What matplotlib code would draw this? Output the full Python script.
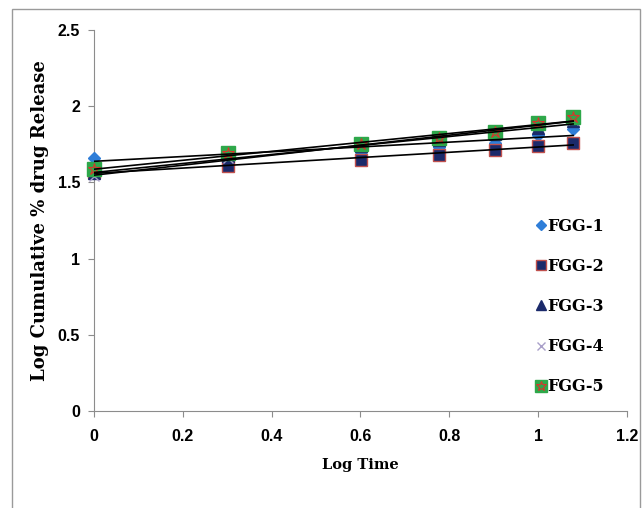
import numpy as np
import matplotlib
matplotlib.use("Agg")
import matplotlib.pyplot as plt
from matplotlib.patches import Rectangle
from matplotlib.legend_handler import HandlerTuple

# log time (h = 1, 2, 4, 6, 8, 10, 12)
log_time = [0, 0.301, 0.602, 0.778, 0.903, 1.0, 1.079]

fgg1 = [1.66, 1.69, 1.70, 1.73, 1.76, 1.81, 1.85]
fgg2 = [1.57, 1.61, 1.65, 1.68, 1.71, 1.74, 1.76]
fgg3 = [1.56, 1.67, 1.74, 1.78, 1.82, 1.86, 1.90]
fgg4 = [1.54, 1.66, 1.75, 1.79, 1.83, 1.88, 1.91]
fgg5 = [1.59, 1.69, 1.75, 1.79, 1.83, 1.89, 1.93]

labels = ["FGG-1", "FGG-2", "FGG-3", "FGG-4", "FGG-5"]
xticks = [0, 0.2, 0.4, 0.6, 0.8, 1, 1.2]
yticks = [0, 0.5, 1, 1.5, 2, 2.5]

fig = plt.figure(figsize=(6.42, 5.08), dpi=100)
ax = fig.add_axes([0.1464, 0.191, 0.83, 0.75])

# outer frame around the whole chart
fig.patches.append(Rectangle((12 / 642, -0.02), 628 / 642, 1 - 9 / 508 + 0.02,
                             transform=fig.transFigure, fill=False,
                             edgecolor="#9a9a9a", linewidth=1.0))

x = np.array(log_time)
h1, = ax.plot(x, fgg1, linestyle="none", marker="D", ms=6.5,
              color="#2f7ed8", mec="#2f7ed8", zorder=3, clip_on=False)
h2, = ax.plot(x, fgg2, linestyle="none", marker="s", ms=8,
              color="#1b2a6b", mec="#c0504d", mew=1.0, zorder=3, clip_on=False)
h3, = ax.plot(x, fgg3, linestyle="none", marker="^", ms=8,
              color="#1b2a6b", mec="#1b2a6b", zorder=3, clip_on=False)
h4, = ax.plot(x, fgg4, linestyle="none", marker="x", ms=7,
              color="#a99fc9", mew=1.0, zorder=3, clip_on=False)
h5a, = ax.plot(x, fgg5, linestyle="none", marker="s", ms=9.5,
               color="#2ea84a", mec="#2ea84a", zorder=4, clip_on=False)
h5b, = ax.plot(x, fgg5, linestyle="none", marker="*", ms=9,
               color="none", mec="#d9342b", mew=0.8, zorder=5, clip_on=False)

# linear trendlines
for ys in [fgg1, fgg2, fgg3, fgg4, fgg5]:
    m, c = np.polyfit(x, ys, 1)
    xs = np.array([x[0], x[-1]])
    ax.plot(xs, m * xs + c, color="black", linewidth=1.2, zorder=6)

ax.set_xlim(0, 1.2)
ax.set_ylim(0, 2.5)
ax.set_xticks(xticks)
ax.set_yticks(yticks)
ax.set_xticklabels(["0", "0.2", "0.4", "0.6", "0.8", "1", "1.2"])
ax.set_yticklabels(["0", "0.5", "1", "1.5", "2", "2.5"])

for side in ["top", "right"]:
    ax.spines[side].set_visible(False)
for side in ["left", "bottom"]:
    ax.spines[side].set_color("#8c8c8c")
ax.tick_params(direction="out", length=4, color="#8c8c8c")
ax.tick_params(axis="x", pad=9)
ax.tick_params(axis="y", pad=6)
for lab in ax.get_xticklabels() + ax.get_yticklabels():
    lab.set_fontfamily("Liberation Sans")
    lab.set_fontweight("bold")
    lab.set_fontsize(11.5)

ax.set_xlabel("Log Time", fontfamily="DejaVu Serif", fontweight="bold",
              fontsize=10.5, labelpad=10)
ax.set_ylabel("Log Cumulative % drug Release", fontfamily="DejaVu Serif",
              fontweight="bold", fontsize=13, labelpad=6)

ax.legend([h1, h2, h3, h4, (h5a, h5b)], labels,
          handler_map={tuple: HandlerTuple(ndivide=1)},
          loc="upper left", bbox_to_anchor=(0.805, 0.545), frameon=False,
          handlelength=0.5, handletextpad=0.15, labelspacing=1.45,
          markerscale=0.85,
          prop={"family": "DejaVu Serif", "weight": "bold", "size": 11.5})

fig.savefig("out.png", dpi=100)
